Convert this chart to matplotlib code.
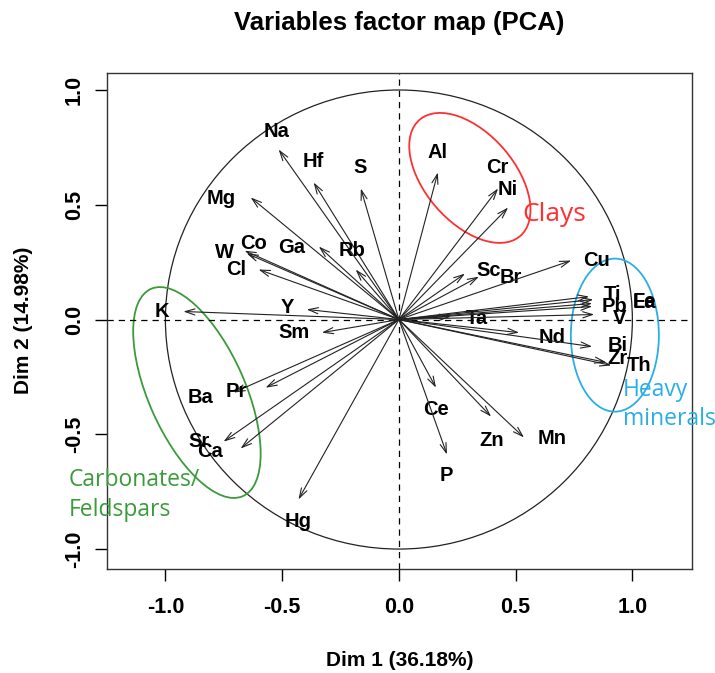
import matplotlib
matplotlib.use("Agg")
import matplotlib.pyplot as plt
from matplotlib.patches import Circle, Ellipse

plt.rcParams["axes.unicode_minus"] = False

# variable coordinates on the first two dimensions
names = ["Na", "Hf", "S", "Mg", "Co", "W", "Ga", "Rb", "Cl", "K", "Y", "Sm",
         "Ba", "Pr", "Sr", "Ca", "Hg", "Ce", "P", "Zn", "Mn", "Nd", "Ta",
         "Al", "Cr", "Ni", "Sc", "Br", "Cu", "Ti", "Fe", "La", "Pb", "V",
         "Bi", "Zr", "Th"]
dim1 = [-0.515, -0.365, -0.163, -0.635, -0.652, -0.661, -0.343, -0.185,
        -0.601, -0.923, -0.395, -0.330, -0.708, -0.571, -0.751, -0.678,
        -0.430, 0.159, 0.206, 0.395, 0.536, 0.515, 0.223, 0.167, 0.425,
        0.468, 0.283, 0.343, 0.738, 0.815, 0.833, 0.828, 0.828, 0.837,
        0.828, 0.888, 0.910]
dim2 = [0.741, 0.597, 0.571, 0.532, 0.288, 0.300, 0.318, 0.218, 0.218,
        0.035, 0.044, -0.057, -0.318, -0.297, -0.532, -0.562, -0.784,
        -0.297, -0.588, -0.423, -0.514, -0.057, 0.013, 0.641, 0.571, 0.488,
        0.200, 0.187, 0.257, 0.100, 0.087, 0.070, 0.057, 0.022, -0.118,
        -0.187, -0.200]

# where each name is written (repelled from the arrow tips)
lab_x = [-0.524, -0.365, -0.167, -0.760, -0.622, -0.747, -0.459, -0.202,
         -0.695, -1.017, -0.476, -0.451, -0.850, -0.695, -0.858, -0.807,
         -0.433, 0.159, 0.202, 0.399, 0.657, 0.657, 0.335, 0.167, 0.421,
         0.468, 0.386, 0.481, 0.845, 0.914, 1.052, 1.052, 0.923, 0.944,
         0.936, 0.936, 1.030]
lab_y = [0.819, 0.688, 0.662, 0.527, 0.331, 0.292, 0.314, 0.301, 0.218,
         0.035, 0.052, -0.057, -0.340, -0.314, -0.532, -0.575, -0.880,
         -0.392, -0.680, -0.527, -0.519, -0.078, 0.004, 0.728, 0.662, 0.566,
         0.214, 0.183, 0.257, 0.109, 0.078, 0.074, 0.057, 0.004, -0.113,
         -0.170, -0.200]

ticks = [-1.0, -0.5, 0.0, 0.5, 1.0]
tick_labels = ["-1.0", "-0.5", "0.0", "0.5", "1.0"]

# groups: label lines, centre, width, height, angle, colour, text size, text spot
groups = [
    (["Clays"], (0.304, 0.617), 0.665, 0.385, -50, "#ff3030", 19,
     (0.531, [0.429])),
    (["Heavy", "minerals"], (0.925, -0.068), 0.377, 0.667, 0, "#2aaee6", 16.5,
     (0.959, [-0.333, -0.460])),
    (["Carbonates/", "Feldspars"], (-0.865, -0.318), 0.985, 0.415, -66.6,
     "#3b9b3b", 16.5, (-1.413, [-0.725, -0.855])),
]

bold = dict(family="Liberation Sans", weight="bold")

fig = plt.figure(figsize=(7.15, 6.73), dpi=100)
ax = fig.add_axes([0.1497, 0.1545, 0.818, 0.737])
ax.set_xlim(-1.25, 1.255)
ax.set_ylim(-1.087, 1.074)

ax.axhline(0, color="black", lw=0.9, ls=(0, (5, 4)))
ax.axvline(0, color="black", lw=0.9, ls=(0, (5, 4)))
ax.add_patch(Circle((0, 0), 1, fill=False, lw=0.9, color="#222222"))

for n, x, y, lx, ly in zip(names, dim1, dim2, lab_x, lab_y):
    ax.annotate("", xy=(x, y), xytext=(0, 0),
                arrowprops=dict(arrowstyle="->,head_length=0.7,head_width=0.22",
                                lw=0.8, color="#222222", shrinkA=0, shrinkB=0))
    ax.text(lx, ly, n, ha="center", va="center", fontsize=14.5, **bold)

for lines, c, w, h, ang, col, fs, (tx, tys) in groups:
    ax.add_patch(Ellipse(c, w, h, angle=ang, fill=False, lw=1.3, color=col))
    for line, ty in zip(lines, tys):
        ax.text(tx, ty, line, color=col, fontsize=fs, family="Open Sans",
                ha="left", va="baseline", clip_on=False)

ax.set_xticks(ticks)
ax.set_xticklabels(tick_labels, fontsize=15.5, **bold)
ax.set_yticks(ticks)
ax.set_yticklabels(tick_labels, fontsize=15.5, rotation=90, va="center", **bold)
ax.tick_params(axis="x", length=8.6, width=1, pad=11.5)
ax.tick_params(axis="y", length=8.6, width=1, pad=7.5)
for s in ax.spines.values():
    s.set_linewidth(1.0)
    s.set_color("#333333")

ax.set_xlabel("Dim 1 (36.18%)", fontsize=15, **bold)
ax.set_ylabel("Dim 2 (14.98%)", fontsize=15, **bold)
ax.xaxis.set_label_coords(0.5, -0.1835)
ax.xaxis.label.set_va("center")
ax.yaxis.set_label_coords(-0.142, 0.502)
ax.yaxis.label.set_va("center")

fig.text(0.5587, 1 - 23 / 673, "Variables factor map (PCA)", ha="center",
         va="center", fontsize=18.5, **bold)

fig.savefig("out.png", dpi=100)
